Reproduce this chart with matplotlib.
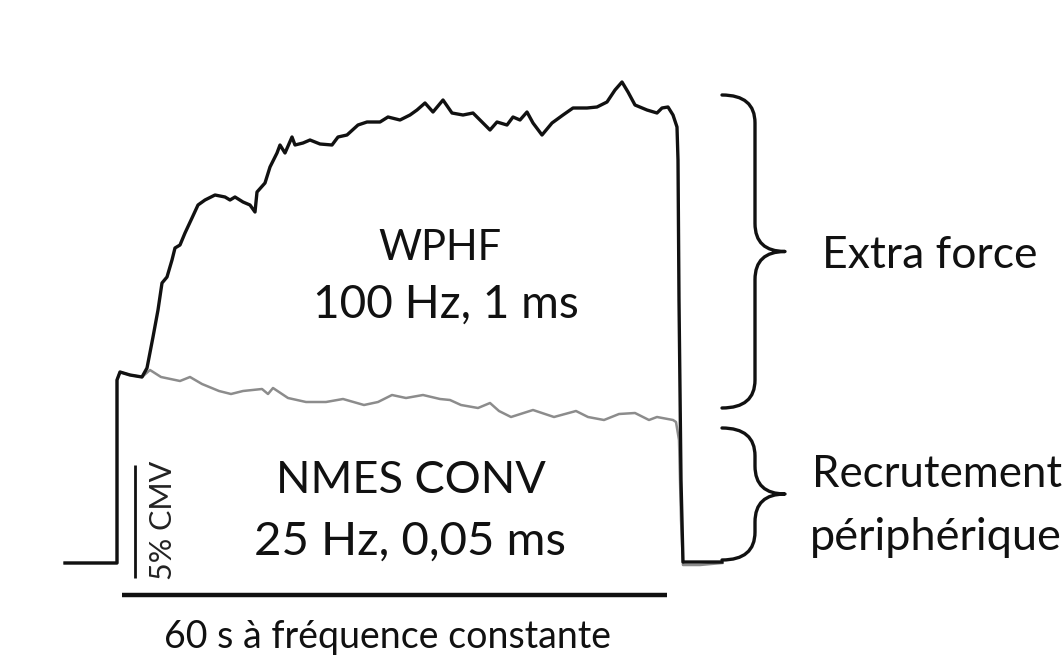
import numpy as np
import matplotlib.pyplot as plt
from matplotlib.path import Path
from matplotlib.patches import PathPatch

plt.rcParams['font.family'] = ['Lato', 'DejaVu Sans']

# traces, in picture units (x to the right, y downward)
wphf_x = [65, 117, 117, 120, 130, 142, 147, 153, 158, 162, 167, 172, 175, 180, 185, 192,
          198, 205, 215, 225, 230, 235, 243, 250, 255, 257, 265, 270, 277, 280, 285,
          292, 295, 303, 310, 320, 332, 338, 347, 358, 367, 380, 388, 400, 410, 417,
          425, 433, 443, 452, 463, 473, 482, 490, 497, 507, 513, 520, 527, 533, 542,
          552, 563, 573, 587, 597, 607, 615, 622, 628, 635, 647, 657, 662, 668, 673,
          677, 678, 679, 681, 683, 700, 722]
wphf_y = [563, 563, 380, 372, 375, 377, 368, 337, 310, 283, 277, 260, 248, 245, 233, 218,
          205, 200, 195, 197, 200, 197, 202, 205, 212, 192, 183, 167, 153, 145, 153,
          137, 145, 143, 140, 144, 145, 137, 135, 125, 122, 122, 117, 120, 115, 110,
          103, 112, 100, 113, 115, 113, 122, 130, 122, 125, 117, 120, 112, 123, 135,
          123, 115, 108, 108, 107, 102, 90, 82, 92, 105, 110, 113, 108, 107, 115,
          127, 160, 300, 480, 562, 562, 562]

nmes_x = [65, 117, 117, 120, 130, 142, 150, 161, 180, 190, 202, 219, 231, 243, 262, 268,
          273, 288, 306, 326, 343, 364, 378, 392, 406, 423, 440, 450, 461, 478, 490,
          499, 511, 533, 554, 576, 588, 604, 619, 635, 649, 657, 673, 676, 679, 681,
          683, 700, 722]
nmes_y = [563, 563, 380, 372, 375, 377, 370, 377, 381, 377, 384, 391, 394, 391, 389, 394,
          388, 398, 402, 402, 399, 405, 402, 395, 398, 395, 399, 400, 405, 408, 403,
          411, 417, 410, 417, 411, 417, 420, 414, 413, 420, 417, 420, 422, 440, 520,
          565, 565, 563]

braces = [(95, 408), (428, 560)]


def brace(ax, x0, ytop, ybot, width=33, tip=30, r=28):
    x1 = x0 + width
    xt = x1 + tip
    ym = (ytop + ybot) / 2
    rr = min(r, (ybot - ytop) / 4)
    verts = [(x0, ytop), (x1, ytop), (x1, ytop + rr),
             (x1, ym - rr), (x1, ym), (xt, ym),
             (x1, ym), (x1, ym + rr),
             (x1, ybot - rr), (x1, ybot), (x0, ybot)]
    codes = [Path.MOVETO, Path.CURVE3, Path.CURVE3,
             Path.LINETO, Path.CURVE3, Path.CURVE3,
             Path.CURVE3, Path.CURVE3,
             Path.LINETO, Path.CURVE3, Path.CURVE3]
    ax.add_patch(PathPatch(Path(verts, codes), fill=False, lw=2.4, color='#111111',
                           capstyle='round', joinstyle='round'))


fig = plt.figure(figsize=(10.64, 6.55), dpi=100)
ax = fig.add_axes([0, 0, 1, 1])
ax.set_xlim(0, 1064)
ax.set_ylim(655, 0)
ax.axis('off')

ax.plot(nmes_x, nmes_y, color='#8c8c8c', lw=1.8, zorder=2)
ax.plot(wphf_x, wphf_y, color='#111111', lw=2.4, zorder=3)

for top, bot in braces:
    brace(ax, 722, top, bot)

# scale bars
ax.plot([135, 135], [465, 578], color='#111111', lw=2.0, solid_capstyle='butt')
ax.plot([122, 667], [595, 595], color='#111111', lw=3.2, solid_capstyle='butt')

txt = dict(color='#111111', va='baseline')
ax.text(172, 520, '5% CMV', rotation=90, rotation_mode='anchor', ha='center',
        fontsize=22, color='#222222', va='baseline')
ax.text(440, 260, 'WPHF', ha='center', fontsize=30, **txt)
ax.text(446, 318, '100 Hz, 1 ms', ha='center', fontsize=33, **txt)
ax.text(411, 493, 'NMES CONV', ha='center', fontsize=32.5, **txt)
ax.text(410, 555, '25 Hz, 0,05 ms', ha='center', fontsize=34, **txt)
ax.text(930, 268, 'Extra force', ha='center', fontsize=32, **txt)
ax.text(812, 487, 'Recrutement', ha='left', fontsize=31.5, **txt)
ax.text(810, 550, 'périphérique', ha='left', fontsize=32.5, **txt)
ax.text(388, 648, '60 s à fréquence constante', ha='center', fontsize=27, **txt)

fig.savefig('out.png', dpi=100)
